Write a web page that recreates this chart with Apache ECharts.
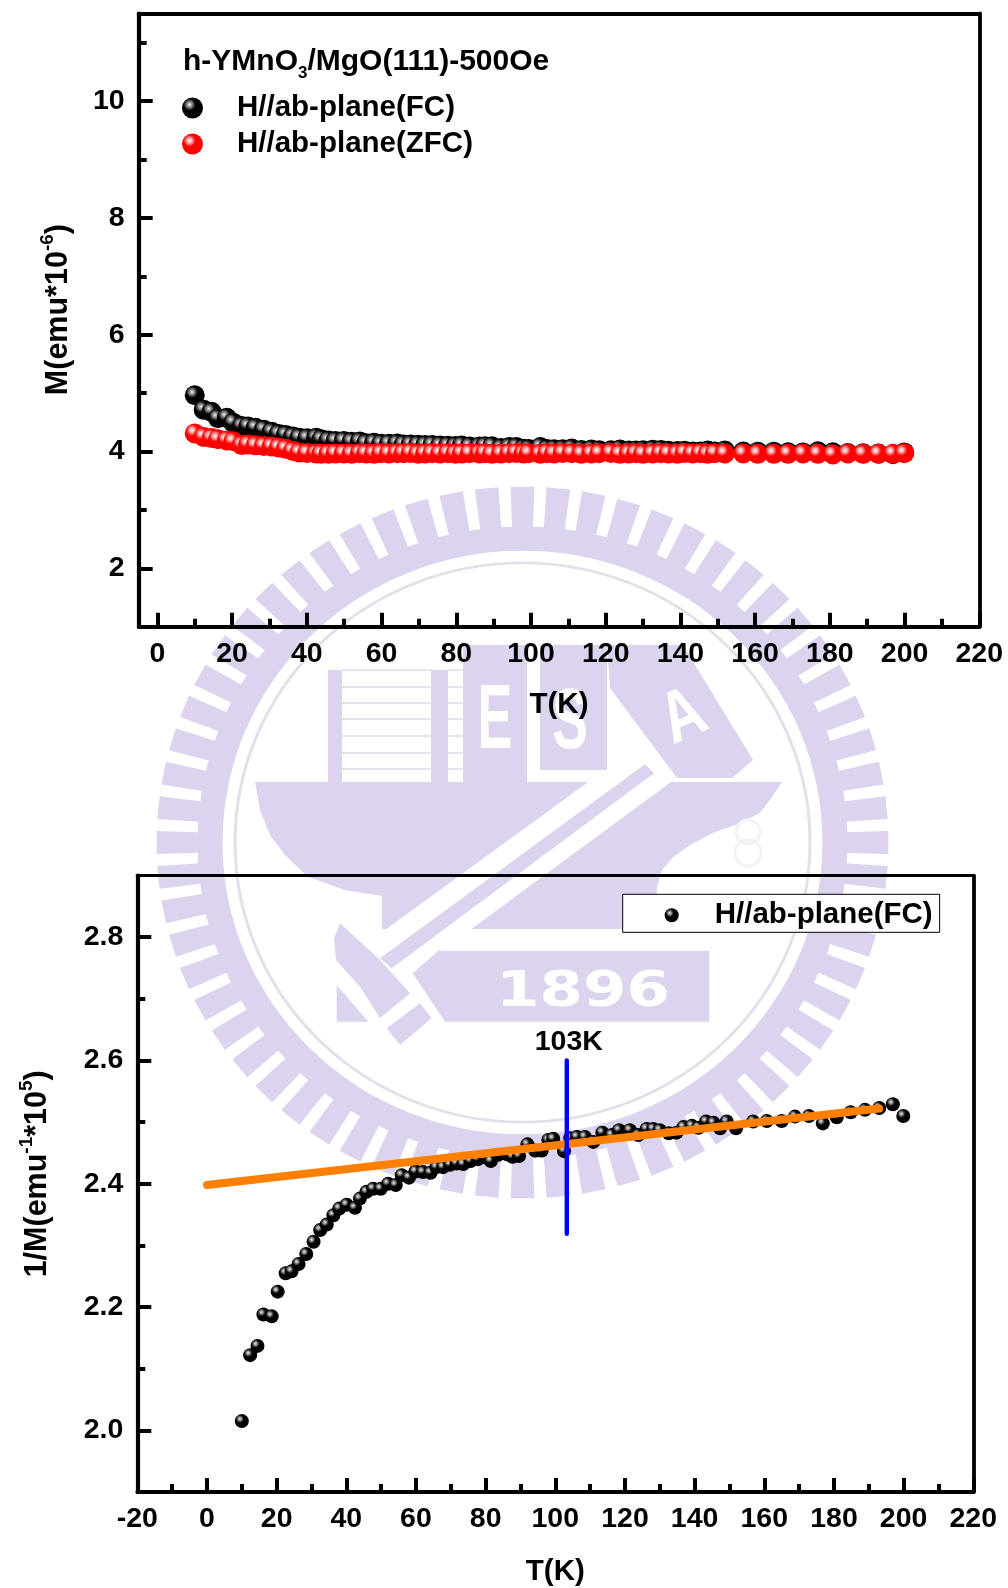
<!DOCTYPE html>
<html>
<head>
<meta charset="utf-8">
<style>html,body{margin:0;padding:0;background:#fff}#c{width:1008px;height:1588px}</style>
<script src="https://cdn.jsdelivr.net/npm/echarts@6/dist/echarts.min.js"></script>
</head>
<body>
<div id="c"></div>
<script>
// ---- data ----
const temperature = [10,12.4,14.5,16.2,18.6,20.3,22.6,24.3,26.3,28.5,30.6,32.5,34.4,36.3,38,40.1,42.5,43.9,45.8,47.7,49.9,52,54.2,55.9,58,59.9,62,64.2,65.9,67.8,69.8,71.7,73.6,75.7,77.8,79.8,81.5,83.6,86.2,87.7,89.6,92,94.2,96.1,98,99.4,102.5,104.3,106.2,108.5,110.9,113.5,116.2,118.3,121.4,123.8,126.2,128.1,130,132.6,134.8,136.8,139.2,141.1,143.3,145.4,147.3,149.2,151.9,156.8,160.7,165,168.8,172.8,176.8,180.8,184.8,188.9,193,196.9,199.9];
const momentFC = [4.963,4.713,4.679,4.570,4.577,4.494,4.435,4.429,4.405,4.374,4.337,4.301,4.284,4.257,4.237,4.227,4.235,4.209,4.189,4.181,4.181,4.167,4.170,4.143,4.149,4.132,4.134,4.136,4.120,4.120,4.114,4.110,4.112,4.103,4.098,4.093,4.103,4.087,4.085,4.092,4.090,4.058,4.075,4.075,4.047,4.044,4.077,4.042,4.039,4.039,4.052,4.027,4.034,4.021,4.021,4.034,4.018,4.018,4.021,4.029,4.027,4.013,4.010,4.014,3.998,4.002,4.016,3.998,4.016,3.998,3.997,3.997,3.986,3.984,4.003,3.987,3.975,3.968,3.964,3.954,3.984];
const momentZFC = [4.31,4.25,4.23,4.21,4.19,4.175,4.11,4.12,4.105,4.095,4.085,4.07,4.045,4.01,3.985,3.975,3.965,3.96,3.96,3.965,3.965,3.96,3.97,3.965,3.96,3.97,3.965,3.97,3.97,3.975,3.96,3.965,3.97,3.965,3.97,3.96,3.965,3.97,3.965,3.97,3.96,3.965,3.97,3.975,3.965,3.97,3.96,3.97,3.965,3.975,3.97,3.96,3.965,3.97,3.975,3.96,3.965,3.97,3.96,3.965,3.97,3.965,3.96,3.975,3.965,3.97,3.96,3.97,3.965,3.965,3.96,3.96,3.96,3.965,3.96,3.95,3.965,3.96,3.96,3.96,3.97];
const inverseFC = [2.015,2.122,2.137,2.188,2.185,2.225,2.255,2.258,2.270,2.286,2.306,2.325,2.334,2.349,2.360,2.366,2.361,2.376,2.387,2.392,2.392,2.400,2.398,2.414,2.410,2.420,2.419,2.418,2.427,2.427,2.431,2.433,2.432,2.437,2.44,2.443,2.437,2.447,2.448,2.444,2.445,2.464,2.454,2.454,2.471,2.473,2.453,2.474,2.476,2.476,2.468,2.483,2.479,2.487,2.487,2.479,2.489,2.489,2.487,2.482,2.483,2.492,2.494,2.491,2.501,2.499,2.49,2.501,2.490,2.501,2.502,2.502,2.509,2.510,2.498,2.508,2.516,2.520,2.523,2.529,2.510];
const fitT = [0, 193];
const fitV = [2.398, 2.522];
const markerT = [103.3, 103.3];
const markerV = [2.6, 2.319];
const topXMajor = [0,20,40,60,80,100,120,140,160,180,200,220];
const topXMinor = [10,30,50,70,90,110,130,150,170,190,210];
const topYMajor = [2,4,6,8,10];
const topYMinor = [3,5,7,9,11];
const botXMajor = [-20,0,20,40,60,80,100,120,140,160,180,200,220];
const botXMinor = [-10,10,30,50,70,90,110,130,150,170,190,210];
const botYMajor = [2.0,2.2,2.4,2.6,2.8];
const botYMinor = [2.1,2.3,2.5,2.7];
const nameFC = 'H//ab-plane(FC)';
const nameZFC = 'H//ab-plane(ZFC)';
const markerLabel = '103K';

const FONT = '"Liberation Sans", Arial, sans-serif';
const sphere = (hi, mid, base) => new echarts.graphic.RadialGradient(0.36, 0.34, 0.62, [
  {offset: 0, color: hi}, {offset: 0.2, color: mid}, {offset: 0.46, color: base}, {offset: 1, color: base}
]);
const blackBall = sphere('#f0f0f0', '#8c8c8c', '#000000');
const redBall = sphere('#ffffff', '#ffa5a5', '#ff0000');

// ---- axes ----
function xAxes(gridIndex, min, max, major, minor, name, nameGap, mainW, topW) {
  const base = {type: 'value', gridIndex, min, max, splitLine: {show: false}};
  const black = {color: '#000'};
  return [
    {...base, position: 'bottom', name, nameLocation: 'middle', nameGap,
      nameTextStyle: {fontFamily: FONT, fontWeight: 'bold', fontSize: 29.5, color: '#000'},
      axisLine: {show: true, onZero: false, lineStyle: {...black, width: mainW}},
      axisTick: {show: true, inside: true, length: 14, lineStyle: {...black, width: 4}, customValues: major},
      axisLabel: {show: true, margin: 13, fontFamily: FONT, fontWeight: 'bold', fontSize: 28.5, color: '#000', customValues: major, hideOverlap: false, showMinLabel: true, showMaxLabel: true}},
    {...base, position: 'bottom', axisLine: {show: false, onZero: false},
      axisTick: {show: true, inside: true, length: 8, lineStyle: {...black, width: 4}, customValues: minor},
      axisLabel: {show: false}},
    {...base, position: 'top', axisLine: {show: true, onZero: false, lineStyle: {...black, width: topW}},
      axisTick: {show: true, inside: false, length: 1, lineStyle: {...black, width: 1}, customValues: major.concat(minor)},
      axisLabel: {show: false}}
  ];
}
function yAxes(gridIndex, min, max, major, minor, name, nameGap, rich, pad, fmt) {
  const base = {type: 'value', gridIndex, min, max, splitLine: {show: false}};
  const black = {color: '#000'};
  return [
    {...base, position: 'left', name, nameLocation: 'middle', nameGap, nameRotate: 90,
      nameTextStyle: {fontFamily: FONT, fontWeight: 'bold', fontSize: 30.5, color: '#000', padding: pad, rich},
      axisLine: {show: true, onZero: false, lineStyle: {...black, width: 4.2}},
      axisTick: {show: true, inside: true, length: 14, lineStyle: {...black, width: 4}, customValues: major},
      axisLabel: {show: true, margin: 14, fontFamily: FONT, fontWeight: 'bold', fontSize: 28.5, color: '#000', customValues: major, formatter: fmt}},
    {...base, position: 'left', axisLine: {show: false, onZero: false},
      axisTick: {show: true, inside: true, length: 8, lineStyle: {...black, width: 4}, customValues: minor},
      axisLabel: {show: false}},
    {...base, position: 'right', axisLine: {show: true, onZero: false, lineStyle: {...black, width: 3.8}},
      axisTick: {show: true, inside: false, length: 1, lineStyle: {...black, width: 1}, customValues: major.concat(minor)},
      axisLabel: {show: false}}
  ];
}
const supRich = {
  a: {fontFamily: FONT, fontWeight: 'bold', fontSize: 30.5, color: '#000', lineHeight: 33, padding: [7, 0, 0, 0]},
  b: {fontFamily: FONT, fontWeight: 'bold', fontSize: 19, color: '#000', lineHeight: 20, verticalAlign: 'top'}
};

// ---- university seal behind the charts (decoration) ----
const SEAL = '#dcd3ef';
const CX = 522.5, CY = 842.5;
const RX = 366, RY = 356;
const TEETH = 64;
const z12 = (pts) => pts.map(p => [320 + p[0] / 3, 660 + p[1] / 3]);
function poly(points, fill) { return {type: 'polygon', z: -5, silent: true, shape: {points}, style: {fill}}; }
function rect(x, y, width, height, fill) { return {type: 'rect', z: -5, silent: true, shape: {x, y, width, height}, style: {fill}}; }
function faint(cx, cy, r) { return {type: 'circle', z: -5, silent: true, shape: {cx, cy, r}, style: {fill: 'none', stroke: '#f3f2f6', lineWidth: 3}}; }
function label(text, x, y, size, sx, rotation, family) {
  return {type: 'text', z: -4, silent: true, x, y, scaleX: sx, rotation,
    style: {text, fill: '#fff', fontFamily: family || FONT, fontWeight: 'bold', fontSize: size, textAlign: 'center', textVerticalAlign: 'middle'}};
}
const ringChildren = [
  {type: 'ring', z: -5, silent: true, shape: {cx: 0, cy: 0, r: 325, r0: 300}, style: {fill: SEAL}},
  {type: 'circle', z: -5, silent: true, shape: {cx: 0, cy: 0, r: 287.5}, style: {fill: 'none', stroke: '#e2e0ea', lineWidth: 3}}
];
for (let i = 0; i < TEETH; i++) {
  const step = 2 * Math.PI / TEETH, a = i * step - Math.PI / 2, w = step * 0.33;
  ringChildren.push(poly([[323 * Math.cos(a - w), 323 * Math.sin(a - w)], [RX * Math.cos(a - w), RX * Math.sin(a - w)],
    [RX * Math.cos(a + w), RX * Math.sin(a + w)], [323 * Math.cos(a + w), 323 * Math.sin(a + w)]], SEAL));
}
const buildingLines = [670, 687, 703, 719, 736, 753, 769];
const sealElements = [
  {type: 'group', x: CX, y: CY, scaleY: RY / RX, children: ringChildren},
  // building
  rect(328, 670, 14, 112, SEAL), rect(431, 670, 17, 112, SEAL),
  rect(463, 645, 64, 137, SEAL), rect(540, 645, 67, 125, SEAL),
  ...buildingLines.map(y => rect(342, y - 1, 89, 2, '#e6e3ee')),
  ...buildingLines.map(y => rect(448, y - 1, 15, 2, '#e6e3ee')),
  // sail
  poly([[607, 645], [683, 645], [753, 760], [732, 778], [677, 778], [610, 688]], SEAL),
  // hull with the lower block
  poly([[255, 782], [782, 782], [772, 797], [760, 813], [738, 824], [713, 833], [690, 845], [673, 857], [662, 870], [657, 887], [656, 929], [382, 929], [382, 896], [345, 890], [308, 877], [285, 855], [270, 835], [260, 810]], SEAL),
  // white band with the lavender blade
  poly(z12([[810, 362], [985, 300], [1072, 352], [280, 935], [205, 940], [188, 815]]), '#fff'),
  poly(z12([[975, 313], [1002, 340], [215, 925], [180, 895]]), SEAL),
  // hilt
  poly(z12([[60, 790], [175, 895], [270, 1000], [180, 1075], [120, 980], [48, 900], [42, 835]]), SEAL),
  poly(z12([[50, 975], [145, 1085], [50, 1085]]), SEAL),
  poly(z12([[200, 1105], [300, 1030], [335, 1075], [240, 1155]]), SEAL),
  // year plate
  poly(z12([[355, 872], [1168, 872], [1168, 1085], [375, 1085], [278, 940]]), SEAL),
  faint(748, 832, 12), faint(748, 853, 13),
  label('1896', 583, 993, 50, 1.25, 0, '"DejaVu Sans"'),
  label('E', 495, 723, 90, 0.58, 0),
  label('S', 570, 724, 86, 0.62, 0),
  label('A', 684, 718, 72, 0.8, 0.42)
];

// ---- chart ----
const chart = echarts.init(document.getElementById('c'), null, {renderer: 'canvas', width: 1008, height: 1588});
const xs0 = xAxes(0, -5, 220, topXMajor, topXMinor, 'T(K)', 63, 4, 4);
const ys0 = yAxes(0, 1, 11.5, topYMajor, topYMinor, '{a|M(emu*10}{b|-6}{a|)}', 67, supRich, [0, 0, 0, 21], v => String(v));
const xs1 = xAxes(1, -20, 220, botXMajor, botXMinor, 'T(K)', 65, 3.8, 3.2);
const ys1 = yAxes(1, 1.9, 2.9, botYMajor, botYMinor, '{a|1/M(emu}{b|-1}{a|*10}{b|5}{a|)}', 87, supRich, [0, 0, 0, 20], v => v.toFixed(1));

chart.setOption({
  animation: false,
  backgroundColor: '#fff',
  title: {
    left: 183, top: 52, padding: 0,
    text: '{a|h-YMnO}{b|3}{a|/MgO(111)-500Oe}',
    textStyle: {rich: {
      a: {fontFamily: FONT, fontWeight: 'bold', fontSize: 30, color: '#000', lineHeight: 30, padding: [0, 0, 10, 0]},
      b: {fontFamily: FONT, fontWeight: 'bold', fontSize: 17, color: '#000', lineHeight: 16, verticalAlign: 'bottom'}
    }}
  },
  grid: [
    {left: 138.7, top: 13.5, width: 840.6, height: 613.2, containLabel: false},
    {left: 137.3, top: 875.6, width: 836, height: 616.7, containLabel: false}
  ],
  xAxis: [...xs0, ...xs1],
  yAxis: [...ys0, ...ys1],
  legend: [
    {orient: 'vertical', left: 182, top: 90, padding: 0, itemGap: 0, itemWidth: 21, itemHeight: 21, icon: 'circle',
      selectedMode: false, data: [nameFC, nameZFC],
      textStyle: {fontFamily: FONT, fontWeight: 'bold', fontSize: 29.5, color: '#000', lineHeight: 30, padding: [6, 0, 0, 29]}},
    {orient: 'vertical', left: 622.7, top: 894.3, padding: [6, 7, 2, 42], itemWidth: 14, itemHeight: 14, icon: 'circle',
      selectedMode: false, data: [nameFC], backgroundColor: '#fff', borderColor: '#000', borderWidth: 1,
      textStyle: {fontFamily: FONT, fontWeight: 'bold', fontSize: 29.5, color: '#000', lineHeight: 21, padding: [7, 0, 0, 31]}}
  ],
  graphic: {elements: sealElements},
  series: [
    {name: nameFC, type: 'scatter', xAxisIndex: 0, yAxisIndex: 0, symbolSize: 20, z: 3,
      itemStyle: {color: blackBall, opacity: 1}, data: temperature.map((t, i) => [t, momentFC[i]])},
    {name: nameZFC, type: 'scatter', xAxisIndex: 0, yAxisIndex: 0, symbolSize: 20, z: 4,
      itemStyle: {color: redBall, opacity: 1}, data: temperature.map((t, i) => [t, momentZFC[i]])},
    {name: nameFC, type: 'scatter', xAxisIndex: 3, yAxisIndex: 3, symbolSize: 14, z: 3,
      itemStyle: {color: blackBall, opacity: 1}, data: temperature.map((t, i) => [t, inverseFC[i]])},
    {name: 'Linear fit', type: 'line', xAxisIndex: 3, yAxisIndex: 3, showSymbol: false, symbol: 'none', z: 5,
      lineStyle: {color: '#ff8000', width: 8, cap: 'round'}, data: fitT.map((t, i) => [t, fitV[i]])},
    {name: markerLabel, type: 'line', xAxisIndex: 3, yAxisIndex: 3, showSymbol: true, showAllSymbol: true, symbol: 'circle', symbolSize: 2, z: 6,
      itemStyle: {color: '#0000ff'},
      lineStyle: {color: '#0000ff', width: 4.4, cap: 'round'},
      label: {show: true, position: 'top', offset: [2, 2], formatter: p => p.dataIndex === 0 ? markerLabel : '', fontFamily: FONT, fontWeight: 'bold', fontSize: 28.5, color: '#000'},
      data: markerT.map((t, i) => [t, markerV[i]])}
  ]
});
</script>
</body>
</html>
